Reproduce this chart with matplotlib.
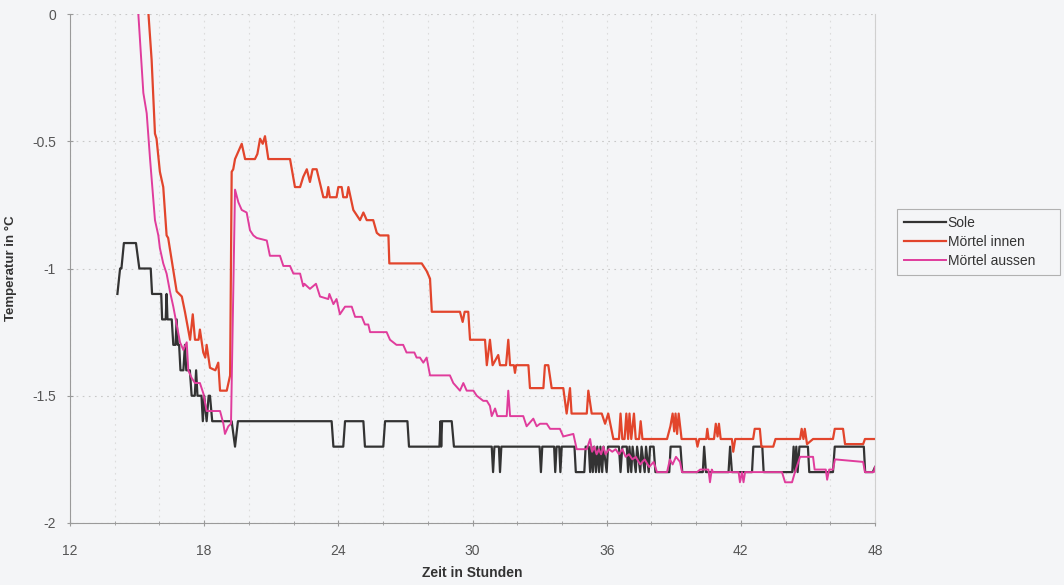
import numpy as np
from matplotlib import pyplot as plt
from matplotlib.ticker import MultipleLocator, FixedLocator, FixedFormatter

plt.rcParams['font.family'] = ['Liberation Sans', 'DejaVu Sans']

# Sole (Stunden, Temperatur)
sole_t = [14.12, 14.24, 14.30, 14.41, 14.95, 15.10, 15.61, 15.67, 16.08, 16.12, 16.28, 16.32, 16.36,
          16.55, 16.62, 16.72, 16.77, 16.82, 16.88, 16.94, 17.07, 17.14, 17.20, 17.36, 17.44, 17.58,
          17.64, 17.70, 17.81, 17.88, 17.94, 18.00, 18.11, 18.20, 18.26, 18.36, 19.23, 19.38, 19.51,
          23.70, 23.78, 24.22, 24.30, 25.12, 25.19, 26.01, 26.09, 27.09, 27.16, 28.52, 28.57, 28.60,
          28.64, 29.07, 29.17, 30.86, 30.92, 30.98, 31.18, 31.23, 31.29, 33.00, 33.06, 33.12, 33.65,
          33.70, 33.76, 33.88, 33.93, 33.99, 34.56, 34.62, 35.00, 35.06, 35.20, 35.26, 35.32, 35.38,
          35.44, 35.52, 35.58, 35.66, 35.72, 35.80, 35.86, 36.00, 36.06, 36.55, 36.62, 36.70, 36.90,
          36.96, 37.02, 37.10, 37.16, 37.30, 37.36, 37.50, 37.56, 37.70, 37.76, 37.88, 37.94, 38.10,
          38.18, 38.80, 38.86, 39.30, 39.38, 40.30, 40.36, 40.44, 41.45, 41.52, 41.60, 42.50, 42.56,
          42.96, 43.02, 44.30, 44.36, 44.42, 44.48, 44.54, 44.62, 45.00, 45.06, 46.12, 46.20, 47.50,
          47.56, 47.90, 48.00]
sole_v = [-1.1, -1.0, -1.0, -0.9, -0.9, -1.0, -1.0, -1.1, -1.1, -1.2, -1.2, -1.1, -1.2,
          -1.2, -1.3, -1.3, -1.2, -1.3, -1.3, -1.4, -1.4, -1.3, -1.4, -1.4, -1.5, -1.5,
          -1.4, -1.5, -1.5, -1.5, -1.6, -1.5, -1.6, -1.5, -1.5, -1.6, -1.6, -1.7, -1.6,
          -1.6, -1.7, -1.7, -1.6, -1.6, -1.7, -1.7, -1.6, -1.6, -1.7, -1.7, -1.6, -1.7,
          -1.6, -1.6, -1.7, -1.7, -1.8, -1.7, -1.7, -1.8, -1.7, -1.7, -1.8, -1.7, -1.7,
          -1.8, -1.7, -1.7, -1.8, -1.7, -1.7, -1.8, -1.8, -1.7, -1.7, -1.8, -1.7, -1.8,
          -1.7, -1.8, -1.7, -1.8, -1.7, -1.8, -1.7, -1.8, -1.7, -1.7, -1.8, -1.7, -1.7,
          -1.8, -1.7, -1.8, -1.7, -1.8, -1.7, -1.8, -1.7, -1.8, -1.7, -1.8, -1.7, -1.7,
          -1.8, -1.8, -1.7, -1.7, -1.8, -1.8, -1.7, -1.8, -1.8, -1.7, -1.8, -1.8, -1.7,
          -1.7, -1.8, -1.8, -1.7, -1.8, -1.7, -1.8, -1.7, -1.7, -1.8, -1.8, -1.7, -1.7,
          -1.8, -1.8, -1.78]

# Mörtel innen
innen_t = [15.47, 15.65, 15.80, 15.87, 16.02, 16.17, 16.32, 16.39, 16.77, 17.00, 17.14, 17.37, 17.49,
           17.59, 17.75, 17.81, 17.96, 18.05, 18.11, 18.26, 18.50, 18.63, 18.71, 19.01, 19.16, 19.23,
           19.30, 19.38, 19.68, 19.83, 20.27, 20.38, 20.50, 20.62, 20.72, 20.87, 21.84, 22.06, 22.29,
           22.43, 22.59, 22.73, 22.85, 23.03, 23.33, 23.48, 23.55, 23.62, 23.92, 24.00, 24.15, 24.22,
           24.38, 24.45, 24.67, 24.97, 25.12, 25.27, 25.56, 25.72, 25.86, 26.24, 26.28, 27.73, 27.95,
           28.10, 28.18, 29.44, 29.56, 29.65, 29.81, 29.89, 30.56, 30.64, 30.78, 30.90, 31.15, 31.23,
           31.50, 31.60, 31.68, 31.85, 31.90, 31.95, 32.50, 32.57, 33.17, 33.24, 33.39, 33.54, 34.06,
           34.21, 34.36, 34.43, 35.11, 35.18, 35.33, 35.78, 35.93, 36.07, 36.30, 36.40, 36.55, 36.62,
           36.70, 36.80, 36.88, 36.96, 37.02, 37.10, 37.22, 37.30, 37.45, 37.52, 37.60, 38.70, 38.85,
           38.95, 39.02, 39.08, 39.15, 39.22, 39.35, 40.00, 40.06, 40.14, 40.45, 40.50, 40.56, 40.80,
           40.88, 40.96, 41.02, 41.10, 41.60, 41.66, 41.75, 42.55, 42.62, 42.85, 42.92, 43.45, 43.55,
           44.65, 44.72, 44.80, 44.86, 44.96, 45.23, 46.12, 46.20, 46.57, 46.66, 47.47, 47.55, 48.00]
innen_v = [0.05, -0.18, -0.47, -0.49, -0.62, -0.68, -0.87, -0.88, -1.09, -1.11, -1.17, -1.28, -1.18,
           -1.28, -1.28, -1.24, -1.33, -1.35, -1.30, -1.39, -1.40, -1.37, -1.48, -1.48, -1.42, -0.62,
           -0.61, -0.57, -0.51, -0.57, -0.57, -0.55, -0.49, -0.51, -0.48, -0.57, -0.57, -0.68, -0.68,
           -0.64, -0.61, -0.66, -0.61, -0.61, -0.72, -0.72, -0.68, -0.72, -0.72, -0.68, -0.68, -0.72,
           -0.72, -0.68, -0.77, -0.81, -0.78, -0.81, -0.81, -0.86, -0.87, -0.87, -0.98, -0.98, -1.01,
           -1.04, -1.17, -1.17, -1.21, -1.17, -1.17, -1.28, -1.28, -1.38, -1.28, -1.38, -1.34, -1.38,
           -1.38, -1.28, -1.38, -1.38, -1.41, -1.38, -1.38, -1.47, -1.47, -1.38, -1.38, -1.47, -1.47,
           -1.57, -1.47, -1.57, -1.57, -1.48, -1.57, -1.57, -1.61, -1.57, -1.67, -1.67, -1.67, -1.57,
           -1.67, -1.67, -1.57, -1.67, -1.57, -1.67, -1.57, -1.67, -1.67, -1.60, -1.67, -1.67, -1.62,
           -1.57, -1.64, -1.57, -1.65, -1.57, -1.67, -1.67, -1.70, -1.67, -1.67, -1.63, -1.67, -1.67,
           -1.61, -1.66, -1.61, -1.67, -1.67, -1.72, -1.67, -1.67, -1.63, -1.63, -1.70, -1.70, -1.67,
           -1.67, -1.63, -1.67, -1.63, -1.69, -1.67, -1.67, -1.63, -1.63, -1.69, -1.69, -1.67, -1.67]

# Mörtel aussen
aussen_t = [15.02, 15.28, 15.43, 15.58, 15.80, 15.95, 16.02, 16.17, 16.32, 16.47, 16.62, 16.77, 16.92,
            17.07, 17.22, 17.29, 17.44, 17.59, 17.81, 17.96, 18.11, 18.71, 18.86, 18.93, 19.08, 19.20,
            19.38, 19.53, 19.68, 19.90, 20.05, 20.20, 20.35, 20.80, 20.94, 21.39, 21.54, 21.84, 21.99,
            22.29, 22.43, 22.48, 22.73, 23.00, 23.18, 23.55, 23.60, 23.78, 23.92, 24.07, 24.30, 24.60,
            24.75, 25.05, 25.19, 25.34, 25.42, 26.16, 26.31, 26.60, 26.90, 27.05, 27.40, 27.50, 27.65,
            27.80, 27.95, 28.10, 28.99, 29.14, 29.44, 29.59, 29.74, 30.04, 30.19, 30.48, 30.64, 30.78,
            30.86, 31.01, 31.11, 31.53, 31.60, 31.68, 32.27, 32.42, 32.72, 32.87, 33.02, 33.32, 33.47,
            33.91, 34.06, 34.51, 34.66, 35.11, 35.26, 35.35, 35.45, 35.55, 35.65, 35.75, 35.85, 35.95,
            36.10, 36.25, 36.40, 36.55, 36.70, 36.85, 37.00, 37.15, 37.30, 37.50, 37.70, 37.90, 38.10,
            38.25, 38.70, 38.83, 38.95, 39.10, 39.28, 39.37, 40.04, 40.18, 40.55, 40.62, 40.70, 40.76,
            41.90, 41.96, 42.05, 42.12, 42.19, 42.28, 43.84, 43.98, 44.29, 44.42, 44.65, 45.23, 45.30,
            45.80, 45.86, 45.95, 46.12, 46.21, 47.47, 47.55, 47.95, 48.00]
aussen_v = [0.05, -0.31, -0.39, -0.57, -0.81, -0.87, -0.92, -0.98, -1.02, -1.09, -1.15, -1.22, -1.29,
            -1.32, -1.29, -1.40, -1.43, -1.45, -1.45, -1.49, -1.56, -1.56, -1.61, -1.65, -1.62, -1.61,
            -0.69, -0.74, -0.77, -0.78, -0.85, -0.87, -0.88, -0.89, -0.95, -0.95, -0.99, -0.99, -1.02,
            -1.02, -1.07, -1.06, -1.08, -1.06, -1.11, -1.12, -1.10, -1.14, -1.12, -1.18, -1.15, -1.15,
            -1.19, -1.19, -1.22, -1.22, -1.25, -1.25, -1.28, -1.30, -1.30, -1.33, -1.33, -1.35, -1.35,
            -1.37, -1.35, -1.42, -1.42, -1.45, -1.48, -1.45, -1.48, -1.48, -1.50, -1.52, -1.52, -1.54,
            -1.58, -1.55, -1.58, -1.58, -1.48, -1.58, -1.58, -1.62, -1.59, -1.62, -1.61, -1.61, -1.63,
            -1.63, -1.66, -1.65, -1.71, -1.71, -1.67, -1.72, -1.70, -1.73, -1.71, -1.73, -1.70, -1.73,
            -1.71, -1.72, -1.71, -1.73, -1.71, -1.74, -1.73, -1.75, -1.74, -1.77, -1.75, -1.78, -1.76,
            -1.80, -1.80, -1.75, -1.77, -1.74, -1.76, -1.80, -1.80, -1.79, -1.79, -1.84, -1.79, -1.80,
            -1.80, -1.84, -1.80, -1.84, -1.80, -1.80, -1.80, -1.84, -1.84, -1.80, -1.74, -1.74, -1.79,
            -1.79, -1.83, -1.79, -1.79, -1.75, -1.76, -1.80, -1.80, -1.78]

x_major = [12, 18, 24, 30, 36, 42, 48]
y_ticks = [-2, -1.5, -1, -0.5, 0]
y_labels = ['-2', '-1.5', '-1', '-0.5', '0']

bg = '#f4f5f7'
fig = plt.figure(figsize=(10.64, 5.85), dpi=100, facecolor=bg)
ax = fig.add_axes([70 / 1064, 62 / 585, 805 / 1064, 509 / 585])
ax.set_facecolor(bg)

ax.plot(sole_t, sole_v, color='#333333', lw=1.6, label='Sole')
ax.plot(innen_t, innen_v, color='#e2452c', lw=1.6, label='Mörtel innen')
ax.plot(aussen_t, aussen_v, color='#e03c9c', lw=1.4, label='Mörtel aussen')

ax.set_xlim(12, 48)
ax.set_ylim(-2, 0)
ax.xaxis.set_major_locator(FixedLocator(x_major))
ax.xaxis.set_minor_locator(MultipleLocator(2))
ax.yaxis.set_major_locator(FixedLocator(y_ticks))
ax.yaxis.set_major_formatter(FixedFormatter(y_labels))

ax.grid(True, which='major', axis='y', color='#c8c8c8', linestyle=(0, (1.5, 4)), lw=0.8)
ax.grid(True, which='both', axis='x', color='#dcdcdc', linestyle=(0, (1.5, 4)), lw=0.8)

for s in ['left', 'bottom']:
    ax.spines[s].set_color('#9a9a9a')
    ax.spines[s].set_linewidth(0.8)
ax.spines['right'].set_color('#d0d0d0')
ax.spines['right'].set_linewidth(0.8)
ax.spines['top'].set_visible(False)

ax.tick_params(axis='both', which='both', direction='inout', color='#9a9a9a',
               labelcolor='#555555', labelsize=10)
ax.tick_params(axis='x', which='major', length=4, pad=13)
ax.tick_params(axis='x', which='minor', length=3)
ax.tick_params(axis='y', which='major', length=4, pad=8)

ax.set_xlabel('Zeit in Stunden', fontsize=10, fontweight='bold', color='#333333', labelpad=6)
ax.set_ylabel('Temperatur in °C', fontsize=9.5, fontweight='bold', color='#333333')
ax.yaxis.set_label_coords(-0.066, 0.5)

leg = fig.legend(loc='upper left', bbox_to_anchor=(897 / 1064, 310 / 585, 163 / 1064, 66 / 585),
                 mode='expand', fontsize=10, frameon=True, fancybox=False,
                 handlelength=3.0, handletextpad=0.15, borderpad=0.5, labelspacing=0.35,
                 borderaxespad=0)
leg.get_frame().set_facecolor(bg)
leg.get_frame().set_edgecolor('#a0a0a0')
leg.get_frame().set_linewidth(0.8)
for t in leg.get_texts():
    t.set_color('#333333')

fig.savefig('out.png', dpi=100, facecolor=bg)
